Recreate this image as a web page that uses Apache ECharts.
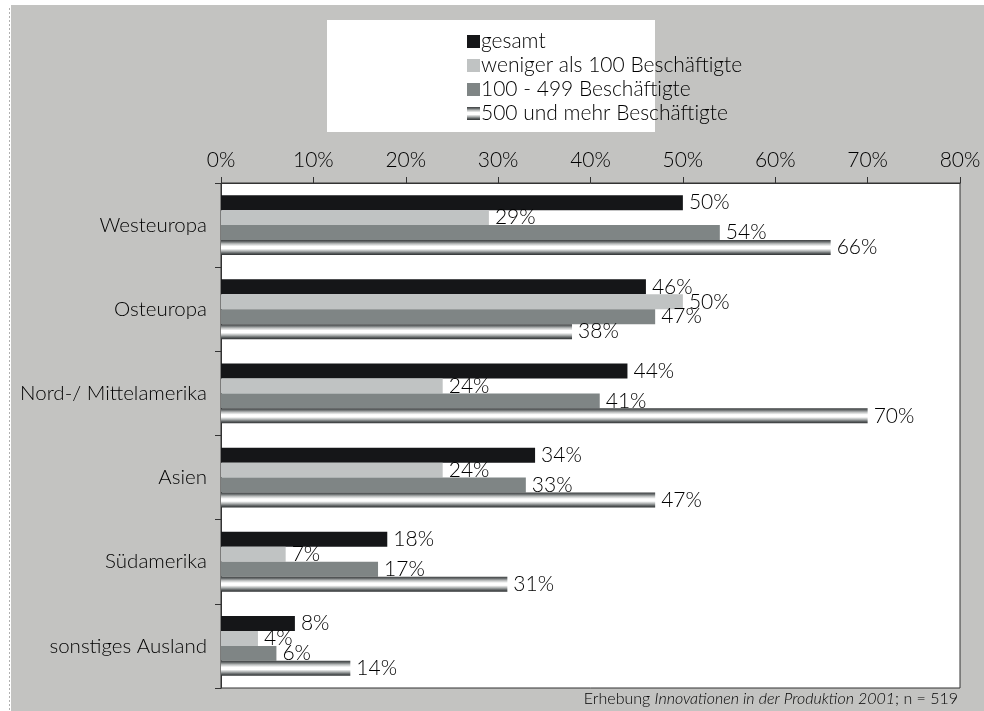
<!DOCTYPE html>
<html><head><meta charset="utf-8">
<script src="https://cdn.jsdelivr.net/npm/echarts@6/dist/echarts.min.js"></script>
<style>html,body{margin:0;padding:0;background:#fff}#c{width:984px;height:711px}</style>
</head><body><div id="c"></div>
<script>
const categories = ['Westeuropa','Osteuropa','Nord-/ Mittelamerika','Asien','Südamerika','sonstiges Ausland'];
const seriesNames = ['gesamt','weniger als 100 Beschäftigte','100 - 499 Beschäftigte','500 und mehr Beschäftigte'];
const gesamt = [50,46,44,34,18,8];
const klein = [29,50,24,24,7,4];
const mittel = [54,47,41,33,17,6];
const gross = [66,38,70,47,31,14];
const xTicks = [0,10,20,30,40,50,60,70,80];

const FONT = 'Lato';
const W = 300;
const TXT = '#000';
const stripe = new echarts.graphic.LinearGradient(0,0,0,1,[
  {offset:0,color:'#3c3f40'},{offset:0.12,color:'#6a6e6f'},{offset:0.25,color:'#b8bbbb'},
  {offset:0.42,color:'#ffffff'},{offset:0.58,color:'#ffffff'},{offset:0.75,color:'#a9adad'},
  {offset:0.88,color:'#5e6263'},{offset:1,color:'#2e3132'}]);
const colors = ['#151618','#c0c3c3','#7f8585',stripe];
const dataSets = [gesamt,klein,mittel,gross];

const chart = echarts.init(document.getElementById('c'));
chart.setOption({
  animation:false,
  textStyle:{fontFamily:FONT,fontWeight:W},
  graphic:[
    {type:'rect',z:-10,shape:{x:11,y:5,width:973,height:706},style:{fill:'#c3c3c1'},silent:true},
    {type:'line',z:-10,shape:{x1:9.5,y1:8,x2:9.5,y2:711},style:{stroke:'#b0b0b0',lineWidth:1,lineDash:[2,2]},silent:true},
    {type:'rect',z:-5,shape:{x:327,y:20,width:328,height:112},style:{fill:'#ffffff'},silent:true},
    {type:'rect',z:-5,shape:{x:221,y:183,width:739,height:505},style:{fill:'#ffffff',stroke:'#333',lineWidth:1},silent:true},
    {type:'text',right:26,top:691,style:{text:'Erhebung {i|Innovationen in der Produktion 2001}; n = 519',
      font:W+' 16px '+FONT,fill:TXT,rich:{i:{fontStyle:'italic',fontWeight:W,fontSize:16,fontFamily:FONT,fill:TXT}}}}
  ],
  legend:{
    orient:'vertical',left:462,top:26,itemWidth:13,itemHeight:13,itemGap:3,
    icon:'rect',
    textStyle:{fontFamily:FONT,fontWeight:W,fontSize:21,lineHeight:21,color:TXT,padding:[0,0,0,-4]},
    data:seriesNames
  },
  grid:{left:221,right:24,top:183,bottom:23},
  xAxis:{
    type:'value',position:'top',min:0,max:80,interval:10,
    axisLine:{show:true,lineStyle:{color:'#333'}},
    axisTick:{show:true,length:6,lineStyle:{color:'#333'}},
    splitLine:{show:false},
    axisLabel:{fontSize:21,fontWeight:W,color:TXT,margin:12,formatter:v=>v+'%'}
  },
  yAxis:{
    type:'category',data:categories,inverse:true,
    axisLine:{show:true,lineStyle:{color:'#333'}},
    axisTick:{show:true,length:6,lineStyle:{color:'#333'}},
    axisLabel:{fontSize:20.5,fontWeight:W,color:TXT,margin:14}
  },
  series:seriesNames.map((n,i)=>({
    name:n,type:'bar',data:dataSets[i],barGap:'0%',barCategoryGap:'29%',
    itemStyle:{color:colors[i]},
    label:{show:true,position:'right',distance:6,fontSize:21,fontWeight:W,color:TXT,fontFamily:FONT,formatter:p=>p.value+'%'}
  }))
});
</script></body></html>
